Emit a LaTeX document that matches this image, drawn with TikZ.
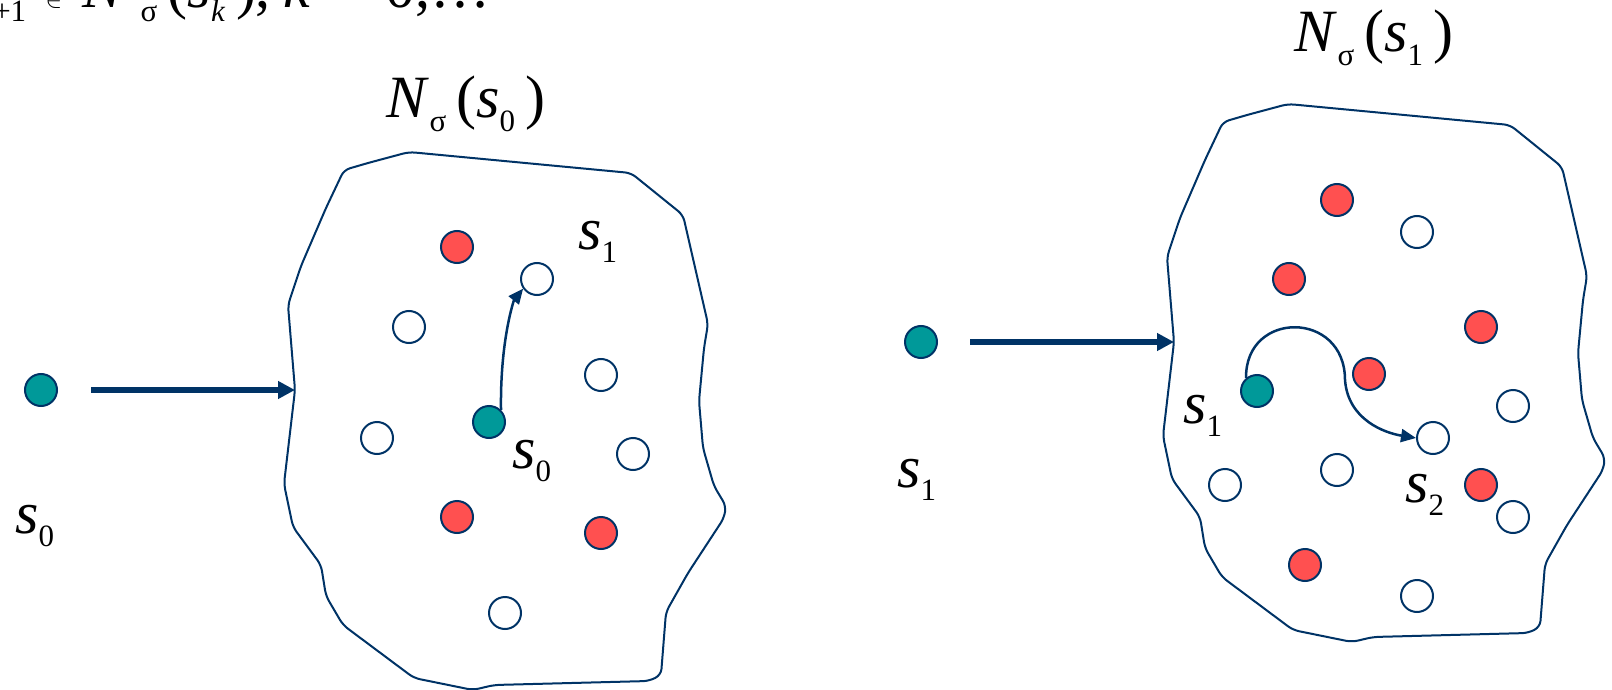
\documentclass[tikz,border=0pt]{standalone}
\usepackage{fontspec}
\setmainfont{Liberation Serif}
\usetikzlibrary{arrows.meta}
\definecolor{navy}{HTML}{003366}
\definecolor{dotred}{HTML}{FF5050}
\definecolor{dotteal}{HTML}{009999}
\newcommand{\sub}[1]{\raisebox{-0.22em}{\fontsize{31}{31}\selectfont #1}}
\newcommand{\putat}[2]{\rlap{\hspace*{#1pt}#2}}
\newcommand{\blobpath}{(1288,104) -- (1510,125) -- (1562,167) -- (1587,276)
	-- (1583,300) -- (1578,353) -- (1582,400) -- (1593,438) -- (1605,458)
	-- (1603,470) -- (1567,525) -- (1545,564) -- (1540,627) -- (1528,633)
	-- (1373,637) -- (1352,642) -- (1293,630) -- (1222,577) -- (1205,548)
	-- (1200,517) -- (1172,479) -- (1163,436) -- (1174,342) -- (1167,257)
	-- (1180,218) -- (1205,160) -- (1223,122) -- (1247,115) -- cycle}
\begin{document}
\begin{tikzpicture}[x=1pt, y=-1pt,
		every node/.style={font=\fontsize{60}{72}\selectfont},
		site/.style={circle, draw=navy, line width=2pt,
			minimum size=32pt, inner sep=0pt},
		redsite/.style={site, fill=dotred},
		tealsite/.style={site, fill=dotteal},
		whitesite/.style={site, fill=white},
		blob/.style={draw=navy, line width=2pt, rounded corners=6pt},
		bigarr/.style={-{Triangle[length=17pt, width=17pt]}, line width=6.5pt, navy},
		arr/.style={-{Triangle[length=15pt, width=13pt]}, line width=2.5pt, navy},
		lbl/.style={anchor=base west, inner sep=0pt},
		]
		\useasboundingbox (0,0) rectangle (1612,690);
		\clip (0,0) rectangle (1612,690);

		% Rule, cut at the top
		\node[anchor=base west, inner sep=0pt] (rule) at (0,8)
		{\putat{-45}{\textit{s}\sub{\textit{k}+1}}\putat{45}{$\in$}%
			\putat{82}{\textit{N}}\putat{140}{\sub{σ}}%
			\putat{167}{(\textit{s}\sub{\textit{k}}}\putat{236}{)}\putat{255}{,}%
			\putat{283}{\textit{k}}\putat{330}{=}\putat{385}{0,…}};

		% Neighbourhoods
		\draw[blob, shift={(-879,48)}] \blobpath;
		\draw[blob] \blobpath;
		\coordinate (e0) at (295,390);
		\coordinate (e1) at (1174,342);

		% Titles
		\node[anchor=base, inner sep=0pt] (n0) at (466,118)
		{\textit{N}\sub{σ}\,(\textit{s}\sub{0}\,)};
		\node[anchor=base, inner sep=0pt] (n1) at (1374,52)
		{\textit{N}\sub{σ}\,(\textit{s}\sub{1}\,)};

		% Current points outside
		\node[tealsite] (a0) at (41,390) {};
		\node[tealsite] (a1) at (921,342) {};
		\node[lbl] (l0) at (15,533) {\textit{s}\sub{0}};
		\node[lbl] (l1) at (897,487) {\textit{s}\sub{1}};
		\draw[bigarr, shorten <=33pt] (a0) -- (e0);
		\draw[bigarr, shorten <=32pt] (a1) -- (e1);

		% Points in N(s0)
		\foreach \p in {(457,247), (457,517), (601,533)}
		\node[redsite] at \p {};
		\foreach \p in {(409,327), (601,375), (377,438), (633,454), (505,613)}
		\node[whitesite] at \p {};
		\node[whitesite] (t1) at (537,279) {};
		\node[tealsite] (c0) at (489,422) {};
		\node[lbl] (la) at (578,249) {\textit{s}\sub{1}};
		\node[lbl] (lb) at (512,468) {\textit{s}\sub{0}};
		\draw[arr] (c0.45) .. controls (500,340) and (514,300) .. (t1.215);

		% Points in N(s1)
		\foreach \p in {(1337,200), (1289,279), (1481,327), (1369,374),
			(1481,485), (1305,565)}
		\node[redsite] at \p {};
		\foreach \p in {(1417,232), (1513,406), (1337,470), (1225,485),
			(1513,517), (1417,596)}
		\node[whitesite] at \p {};
		\node[whitesite] (t2) at (1433,438) {};
		\node[tealsite] (c1) at (1257,391) {};
		\node[lbl] (lc) at (1183,423) {\textit{s}\sub{1}};
		\node[lbl] (ld) at (1405,502) {\textit{s}\sub{2}};
		\draw[arr] (c1.130) .. controls (1245,310) and (1345,310) .. (1345,380)
		.. controls (1348,420) and (1385,433) .. (t2.west);
	\end{tikzpicture}
\end{document}
